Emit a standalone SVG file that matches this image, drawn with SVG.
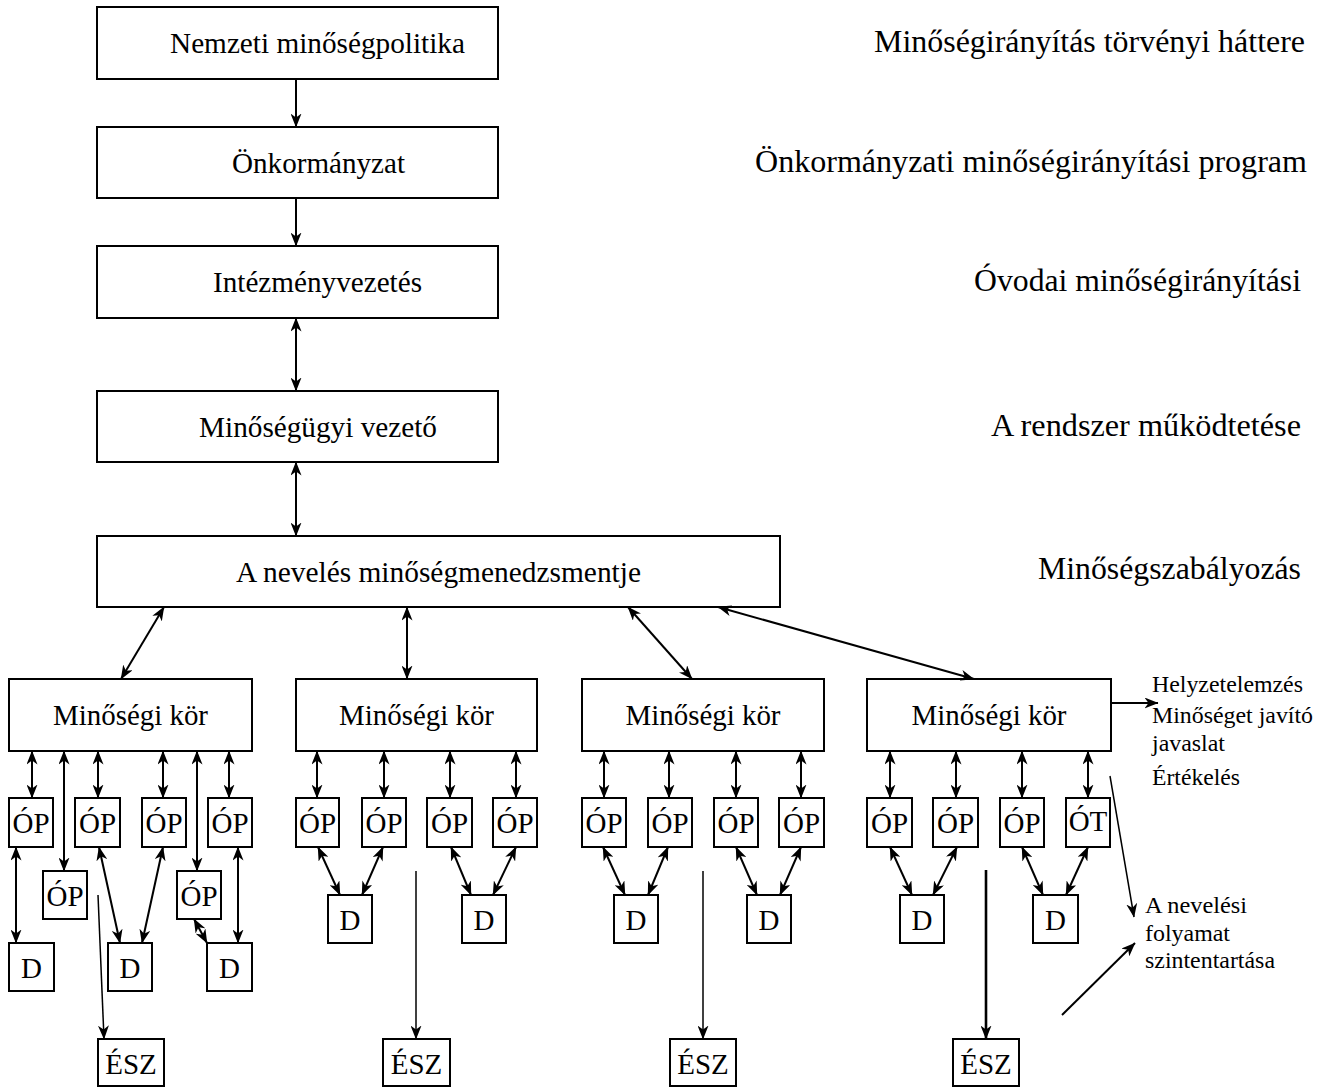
<svg xmlns="http://www.w3.org/2000/svg" width="1328" height="1088" viewBox="0 0 1328 1088">
<style>
.box{fill:#fff;stroke:#000;stroke-width:2}
.t{font-family:"Liberation Serif","Times New Roman",Tinos,serif;font-size:29px;fill:#000}
.r{font-family:"Liberation Serif","Times New Roman",Tinos,serif;font-size:31px;fill:#000}
.s{font-family:"Liberation Serif","Times New Roman",Tinos,serif;font-size:24px;fill:#000}
.m{text-anchor:middle}
.c{stroke:#000;stroke-width:2;fill:none}
.thin{stroke-width:1.5}
.thick{stroke-width:2.6}
</style>
<defs>
<marker id="ah" viewBox="0 0 14 11" refX="13.5" refY="5.5" markerWidth="14" markerHeight="11" markerUnits="userSpaceOnUse" orient="auto-start-reverse">
<path d="M0,0 L14,5.5 L0,11 L4,5.5 Z" fill="#000"/>
</marker>
</defs>
<rect width="1328" height="1088" fill="#fff"/>

<g id="nemzeti"><rect class="box" x="97" y="7" width="401" height="72"/><text class="t" x="170" y="53" textLength="295" lengthAdjust="spacingAndGlyphs">Nemzeti minőségpolitika</text></g>
<g id="onkormanyzat"><rect class="box" x="97" y="127" width="401" height="71"/><text class="t" x="232" y="173" textLength="173" lengthAdjust="spacingAndGlyphs">Önkormányzat</text></g>
<g id="intezmeny"><rect class="box" x="97" y="246" width="401" height="72"/><text class="t" x="213" y="292" textLength="209" lengthAdjust="spacingAndGlyphs">Intézményvezetés</text></g>
<g id="minosegugyi"><rect class="box" x="97" y="391" width="401" height="71"/><text class="t" x="199" y="437" textLength="238" lengthAdjust="spacingAndGlyphs">Minőségügyi vezető</text></g>
<g id="neveles"><rect class="box" x="97" y="536" width="683" height="71"/><text class="t" x="236" y="582" textLength="405" lengthAdjust="spacingAndGlyphs">A nevelés minőségmenedzsmentje</text></g>

<g id="labels">
<text class="r" x="874" y="52" textLength="431" lengthAdjust="spacingAndGlyphs">Minőségirányítás törvényi háttere</text>
<text class="r" x="755" y="172" textLength="552" lengthAdjust="spacingAndGlyphs">Önkormányzati minőségirányítási program</text>
<text class="r" x="974" y="291" textLength="327" lengthAdjust="spacingAndGlyphs">Óvodai minőségirányítási</text>
<text class="r" x="991" y="436" textLength="310" lengthAdjust="spacingAndGlyphs">A rendszer működtetése</text>
<text class="r" x="1038" y="579" textLength="263" lengthAdjust="spacingAndGlyphs">Minőségszabályozás</text>
<text class="s" x="1152" y="692" textLength="151" lengthAdjust="spacingAndGlyphs">Helyzetelemzés</text>
<text class="s" x="1152" y="723" textLength="161" lengthAdjust="spacingAndGlyphs">Minőséget javító</text>
<text class="s" x="1152" y="751" textLength="73" lengthAdjust="spacingAndGlyphs">javaslat</text>
<text class="s" x="1152" y="785" textLength="88" lengthAdjust="spacingAndGlyphs">Értékelés</text>
<text class="s" x="1145" y="913" textLength="102" lengthAdjust="spacingAndGlyphs">A nevelési</text>
<text class="s" x="1145" y="941" textLength="85" lengthAdjust="spacingAndGlyphs">folyamat</text>
<text class="s" x="1145" y="968" textLength="130" lengthAdjust="spacingAndGlyphs">szintentartása</text>
</g>

<g id="kor1"><rect class="box" x="9" y="679" width="243" height="72"/><text class="t" x="53" y="725" textLength="155" lengthAdjust="spacingAndGlyphs">Minőségi kör</text></g>
<g id="kor2"><rect class="box" x="296" y="679" width="241" height="72"/><text class="t" x="339" y="725" textLength="155" lengthAdjust="spacingAndGlyphs">Minőségi kör</text></g>
<g id="kor3"><rect class="box" x="582" y="679" width="242" height="72"/><text class="t" x="625.5" y="725" textLength="155" lengthAdjust="spacingAndGlyphs">Minőségi kör</text></g>
<g id="kor4"><rect class="box" x="867" y="679" width="244" height="72"/><text class="t" x="911.5" y="725" textLength="155" lengthAdjust="spacingAndGlyphs">Minőségi kör</text></g>

<!-- cluster 1 -->
<g id="op1a"><rect class="box" x="9" y="798" width="44" height="49"/><text class="t m" x="31" y="833">ÓP</text></g>
<g id="op1b"><rect class="box" x="75" y="798" width="45" height="49"/><text class="t m" x="97.5" y="833">ÓP</text></g>
<g id="op1c"><rect class="box" x="142" y="798" width="44" height="49"/><text class="t m" x="164" y="833">ÓP</text></g>
<g id="op1d"><rect class="box" x="208" y="798" width="44" height="49"/><text class="t m" x="230" y="833">ÓP</text></g>
<g id="op1e"><rect class="box" x="43" y="871" width="44" height="48"/><text class="t m" x="65" y="906">ÓP</text></g>
<g id="op1f"><rect class="box" x="177" y="871" width="44" height="48"/><text class="t m" x="199" y="906">ÓP</text></g>
<g id="d1a"><rect class="box" x="9" y="943" width="45" height="48"/><text class="t m" x="31.5" y="978">D</text></g>
<g id="d1b"><rect class="box" x="108" y="943" width="44" height="48"/><text class="t m" x="130" y="978">D</text></g>
<g id="d1c"><rect class="box" x="207" y="943" width="45" height="48"/><text class="t m" x="229.5" y="978">D</text></g>
<g id="esz1"><rect class="box" x="98" y="1039" width="66" height="47"/><text class="t m" x="131" y="1074">ÉSZ</text></g>

<!-- cluster 2 -->
<g id="op2a"><rect class="box" x="296" y="798" width="43" height="49"/><text class="t m" x="317.5" y="833">ÓP</text></g>
<g id="op2b"><rect class="box" x="362" y="798" width="44" height="49"/><text class="t m" x="384" y="833">ÓP</text></g>
<g id="op2c"><rect class="box" x="427" y="798" width="45" height="49"/><text class="t m" x="449.5" y="833">ÓP</text></g>
<g id="op2d"><rect class="box" x="493" y="798" width="44" height="49"/><text class="t m" x="515" y="833">ÓP</text></g>
<g id="d2a"><rect class="box" x="328" y="895" width="44" height="48"/><text class="t m" x="350" y="930">D</text></g>
<g id="d2b"><rect class="box" x="462" y="895" width="44" height="48"/><text class="t m" x="484" y="930">D</text></g>
<g id="esz2"><rect class="box" x="383" y="1039" width="67" height="47"/><text class="t m" x="416.5" y="1074">ÉSZ</text></g>

<!-- cluster 3 -->
<g id="op3a"><rect class="box" x="582" y="798" width="44" height="49"/><text class="t m" x="604" y="833">ÓP</text></g>
<g id="op3b"><rect class="box" x="648" y="798" width="44" height="49"/><text class="t m" x="670" y="833">ÓP</text></g>
<g id="op3c"><rect class="box" x="714" y="798" width="44" height="49"/><text class="t m" x="736" y="833">ÓP</text></g>
<g id="op3d"><rect class="box" x="779" y="798" width="45" height="49"/><text class="t m" x="801.5" y="833">ÓP</text></g>
<g id="d3a"><rect class="box" x="614" y="895" width="44" height="48"/><text class="t m" x="636" y="930">D</text></g>
<g id="d3b"><rect class="box" x="747" y="895" width="44" height="48"/><text class="t m" x="769" y="930">D</text></g>
<g id="esz3"><rect class="box" x="670" y="1039" width="66" height="47"/><text class="t m" x="703" y="1074">ÉSZ</text></g>

<!-- cluster 4 -->
<g id="op4a"><rect class="box" x="867" y="798" width="45" height="49"/><text class="t m" x="889.5" y="833">ÓP</text></g>
<g id="op4b"><rect class="box" x="933" y="798" width="45" height="49"/><text class="t m" x="955.5" y="833">ÓP</text></g>
<g id="op4c"><rect class="box" x="1000" y="798" width="44" height="49"/><text class="t m" x="1022" y="833">ÓP</text></g>
<g id="ot4d"><rect class="box" x="1066" y="798" width="44" height="49"/><text class="t m" x="1088" y="831">ÓT</text></g>
<g id="d4a"><rect class="box" x="900" y="895" width="44" height="48"/><text class="t m" x="922" y="930">D</text></g>
<g id="d4b"><rect class="box" x="1033" y="895" width="45" height="48"/><text class="t m" x="1055.5" y="930">D</text></g>
<g id="esz4"><rect class="box" x="953" y="1039" width="66" height="47"/><text class="t m" x="986" y="1074">ÉSZ</text></g>

<g id="connectors">
<line class="c" x1="296" y1="79" x2="296" y2="127" marker-end="url(#ah)"/>
<line class="c" x1="296" y1="198" x2="296" y2="246" marker-end="url(#ah)"/>
<line class="c" x1="296" y1="318" x2="296" y2="391" marker-start="url(#ah)" marker-end="url(#ah)"/>
<line class="c" x1="296" y1="462" x2="296" y2="536" marker-start="url(#ah)" marker-end="url(#ah)"/>

<line class="c" x1="164" y1="607" x2="121" y2="679" marker-start="url(#ah)" marker-end="url(#ah)"/>
<line class="c" x1="407" y1="607" x2="407" y2="679" marker-start="url(#ah)" marker-end="url(#ah)"/>
<line class="c" x1="628" y1="607" x2="692" y2="679" marker-start="url(#ah)" marker-end="url(#ah)"/>
<line class="c" x1="718" y1="607" x2="974" y2="679" marker-start="url(#ah)" marker-end="url(#ah)"/>

<line class="c" x1="32" y1="751" x2="32" y2="798" marker-start="url(#ah)" marker-end="url(#ah)"/>
<line class="c" x1="64" y1="751" x2="64" y2="871" marker-start="url(#ah)" marker-end="url(#ah)"/>
<line class="c" x1="98" y1="751" x2="98" y2="798" marker-start="url(#ah)" marker-end="url(#ah)"/>
<line class="c" x1="163" y1="751" x2="163" y2="798" marker-start="url(#ah)" marker-end="url(#ah)"/>
<line class="c" x1="197" y1="751" x2="197" y2="871" marker-start="url(#ah)" marker-end="url(#ah)"/>
<line class="c" x1="229" y1="751" x2="229" y2="798" marker-start="url(#ah)" marker-end="url(#ah)"/>
<line class="c" x1="16" y1="847" x2="16" y2="943" marker-start="url(#ah)" marker-end="url(#ah)"/>
<line class="c" x1="99" y1="847" x2="120" y2="943" marker-start="url(#ah)" marker-end="url(#ah)"/>
<line class="c" x1="163" y1="847" x2="142" y2="943" marker-start="url(#ah)" marker-end="url(#ah)"/>
<line class="c" x1="194" y1="919" x2="207" y2="943" marker-start="url(#ah)" marker-end="url(#ah)"/>
<line class="c" x1="238" y1="847" x2="238" y2="943" marker-start="url(#ah)" marker-end="url(#ah)"/>
<line class="c thin" x1="98" y1="895" x2="104" y2="1039" marker-end="url(#ah)"/>

<line class="c" x1="317" y1="751" x2="317" y2="798" marker-start="url(#ah)" marker-end="url(#ah)"/>
<line class="c" x1="384" y1="751" x2="384" y2="798" marker-start="url(#ah)" marker-end="url(#ah)"/>
<line class="c" x1="450" y1="751" x2="450" y2="798" marker-start="url(#ah)" marker-end="url(#ah)"/>
<line class="c" x1="516" y1="751" x2="516" y2="798" marker-start="url(#ah)" marker-end="url(#ah)"/>
<line class="c" x1="318" y1="847" x2="340" y2="895" marker-start="url(#ah)" marker-end="url(#ah)"/>
<line class="c" x1="383" y1="847" x2="362" y2="895" marker-start="url(#ah)" marker-end="url(#ah)"/>
<line class="c" x1="451" y1="847" x2="471" y2="895" marker-start="url(#ah)" marker-end="url(#ah)"/>
<line class="c" x1="516" y1="847" x2="493" y2="895" marker-start="url(#ah)" marker-end="url(#ah)"/>
<line class="c thin" x1="416" y1="871" x2="416" y2="1039" marker-end="url(#ah)"/>

<line class="c" x1="604" y1="751" x2="604" y2="798" marker-start="url(#ah)" marker-end="url(#ah)"/>
<line class="c" x1="669" y1="751" x2="669" y2="798" marker-start="url(#ah)" marker-end="url(#ah)"/>
<line class="c" x1="736" y1="751" x2="736" y2="798" marker-start="url(#ah)" marker-end="url(#ah)"/>
<line class="c" x1="801" y1="751" x2="801" y2="798" marker-start="url(#ah)" marker-end="url(#ah)"/>
<line class="c" x1="603" y1="847" x2="625" y2="895" marker-start="url(#ah)" marker-end="url(#ah)"/>
<line class="c" x1="668" y1="847" x2="648" y2="895" marker-start="url(#ah)" marker-end="url(#ah)"/>
<line class="c" x1="736" y1="847" x2="757" y2="895" marker-start="url(#ah)" marker-end="url(#ah)"/>
<line class="c" x1="801" y1="847" x2="780" y2="895" marker-start="url(#ah)" marker-end="url(#ah)"/>
<line class="c thin" x1="703" y1="871" x2="703" y2="1039" marker-end="url(#ah)"/>

<line class="c" x1="890" y1="751" x2="890" y2="798" marker-start="url(#ah)" marker-end="url(#ah)"/>
<line class="c" x1="956" y1="751" x2="956" y2="798" marker-start="url(#ah)" marker-end="url(#ah)"/>
<line class="c" x1="1022" y1="751" x2="1022" y2="798" marker-start="url(#ah)" marker-end="url(#ah)"/>
<line class="c" x1="1088" y1="751" x2="1088" y2="798" marker-start="url(#ah)" marker-end="url(#ah)"/>
<line class="c" x1="890" y1="847" x2="912" y2="895" marker-start="url(#ah)" marker-end="url(#ah)"/>
<line class="c" x1="957" y1="847" x2="933" y2="895" marker-start="url(#ah)" marker-end="url(#ah)"/>
<line class="c" x1="1022" y1="847" x2="1043" y2="895" marker-start="url(#ah)" marker-end="url(#ah)"/>
<line class="c" x1="1088" y1="847" x2="1066" y2="895" marker-start="url(#ah)" marker-end="url(#ah)"/>
<line class="c thick" x1="986" y1="870" x2="986" y2="1039" marker-end="url(#ah)"/>

<line class="c" x1="1111" y1="703" x2="1158" y2="703" marker-end="url(#ah)"/>
<line class="c thin" x1="1110" y1="776" x2="1134" y2="917" marker-end="url(#ah)"/>
<line class="c" x1="1062" y1="1015" x2="1135" y2="943" marker-end="url(#ah)"/>
</g>
</svg>
